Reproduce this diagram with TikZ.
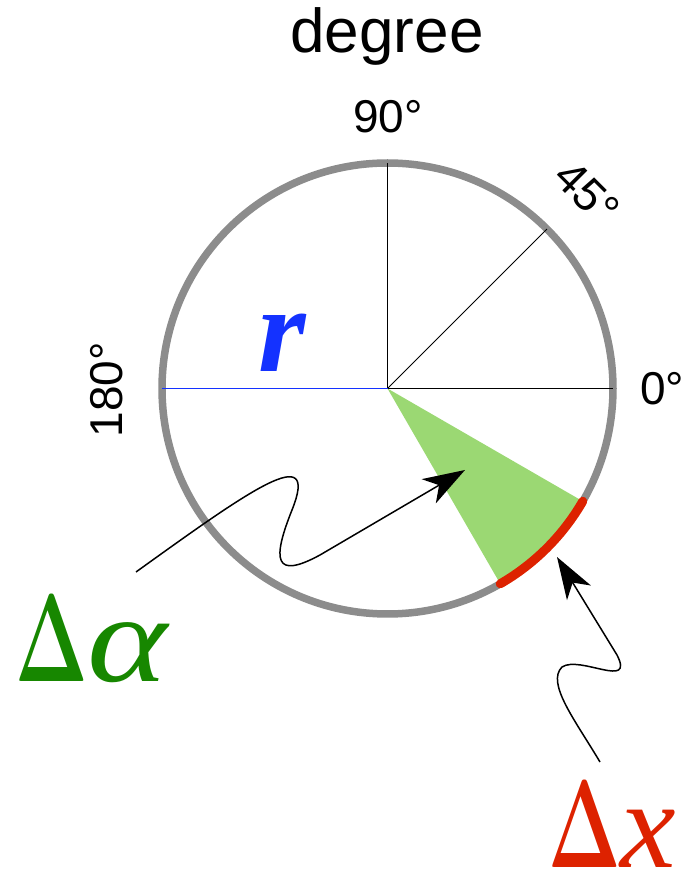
\documentclass[tikz,border=0pt]{standalone}
\usepackage{fontspec}
\setmainfont{Liberation Serif}
\setsansfont{Liberation Sans}
\newfontfamily\deltafont{Latin Modern Roman}
\usetikzlibrary{arrows.meta}

\begin{document}
\begin{tikzpicture}[x=1pt, y=1pt,
  etichetta/.style={font=\sffamily\fontsize{46}{46}\selectfont, inner sep=0pt},
  raggio/.style={draw=black, line width=1pt},
  freccia/.style={draw=black, line width=1.5pt, -{Stealth[length=42pt, width=28pt, inset=12pt]}},
  grande/.style={font=\fontsize{125}{125}\selectfont, inner sep=0pt, anchor=base west}
    ]
    % Definizione colori locali
    \definecolor{colorAnello}{RGB}{140, 140, 140}
    \definecolor{colorSettore}{RGB}{155, 216, 115}
    \definecolor{colorArco}{RGB}{221, 34, 0}
    \definecolor{colorAlpha}{RGB}{23, 135, 0}
    \definecolor{colorRaggio}{RGB}{20, 50, 255}

    \useasboundingbox (0,0) rectangle (686,871);

    % Cerchio
    \coordinate (centro) at (387.5,482.5);
    \fill[colorSettore] (centro) -- ++(-60:225.5) arc[start angle=-60, end angle=-30, radius=225.5] -- cycle;
    \draw[colorAnello, line width=7.5pt] (centro) circle[radius=225.5];
    \draw[colorArco, line width=9pt, line cap=round] (centro) ++(-60:225.5) arc[start angle=-60, end angle=-30, radius=225.5];

    % Raggi
    \draw[raggio] (centro) -- ++(90:225.5) coordinate (p90);
    \draw[raggio] (centro) -- ++(45:225.5) coordinate (p45);
    \draw[raggio] (centro) -- ++(0:225.5) coordinate (p0);
    \draw[colorRaggio, line width=1.3pt] (centro) -- ++(180:225.5) coordinate (p180);

    % Etichette
    \node[font=\sffamily\fontsize{62}{62}\selectfont, inner sep=0pt, anchor=base] (titolo) at (387,818) {degree};
    \node[etichetta, anchor=base] (lab90) at (388,738) {90°};
    \node[etichetta, rotate=-45] (lab45) at (587,678) {45°};
    \node[etichetta, anchor=base west] (lab0) at (640,466) {0°};
    \node[etichetta, rotate=90, anchor=base] (lab180) at (122,481) {180°};
    \node[font=\bfseries\itshape\fontsize{122}{122}\selectfont, text=colorRaggio, inner sep=0pt, anchor=base] (raggioR) at (282,499) {r};

    \node[grande, text=colorAlpha] (deltaAlpha) at (15,189) {\scalebox{0.62}[1]{\deltafont\bfseries Δ}\scalebox{1.22}[1]{\itshape α}};
    \node[grande, text=colorArco] (deltaX) at (548,4) {\scalebox{0.62}[1]{\deltafont\bfseries Δ}\itshape x};

    % Frecce
    \coordinate (codaAlpha) at (136,299);
    \coordinate (puntaAlpha) at (465,401);
    \draw[freccia] (codaAlpha) .. controls (250,381) and (320,431) .. (292,361)
      .. controls (272,311) and (274,291) .. (320,316) -- (puntaAlpha);

    \coordinate (codaX) at (600,109);
    \coordinate (puntaX) at (557,314);
    \draw[freccia] (codaX) .. controls (575,151) and (546,188) .. (562,204)
      .. controls (580,216) and (635,181) .. (617,216) -- (puntaX);
    \end{tikzpicture}
\end{document}
